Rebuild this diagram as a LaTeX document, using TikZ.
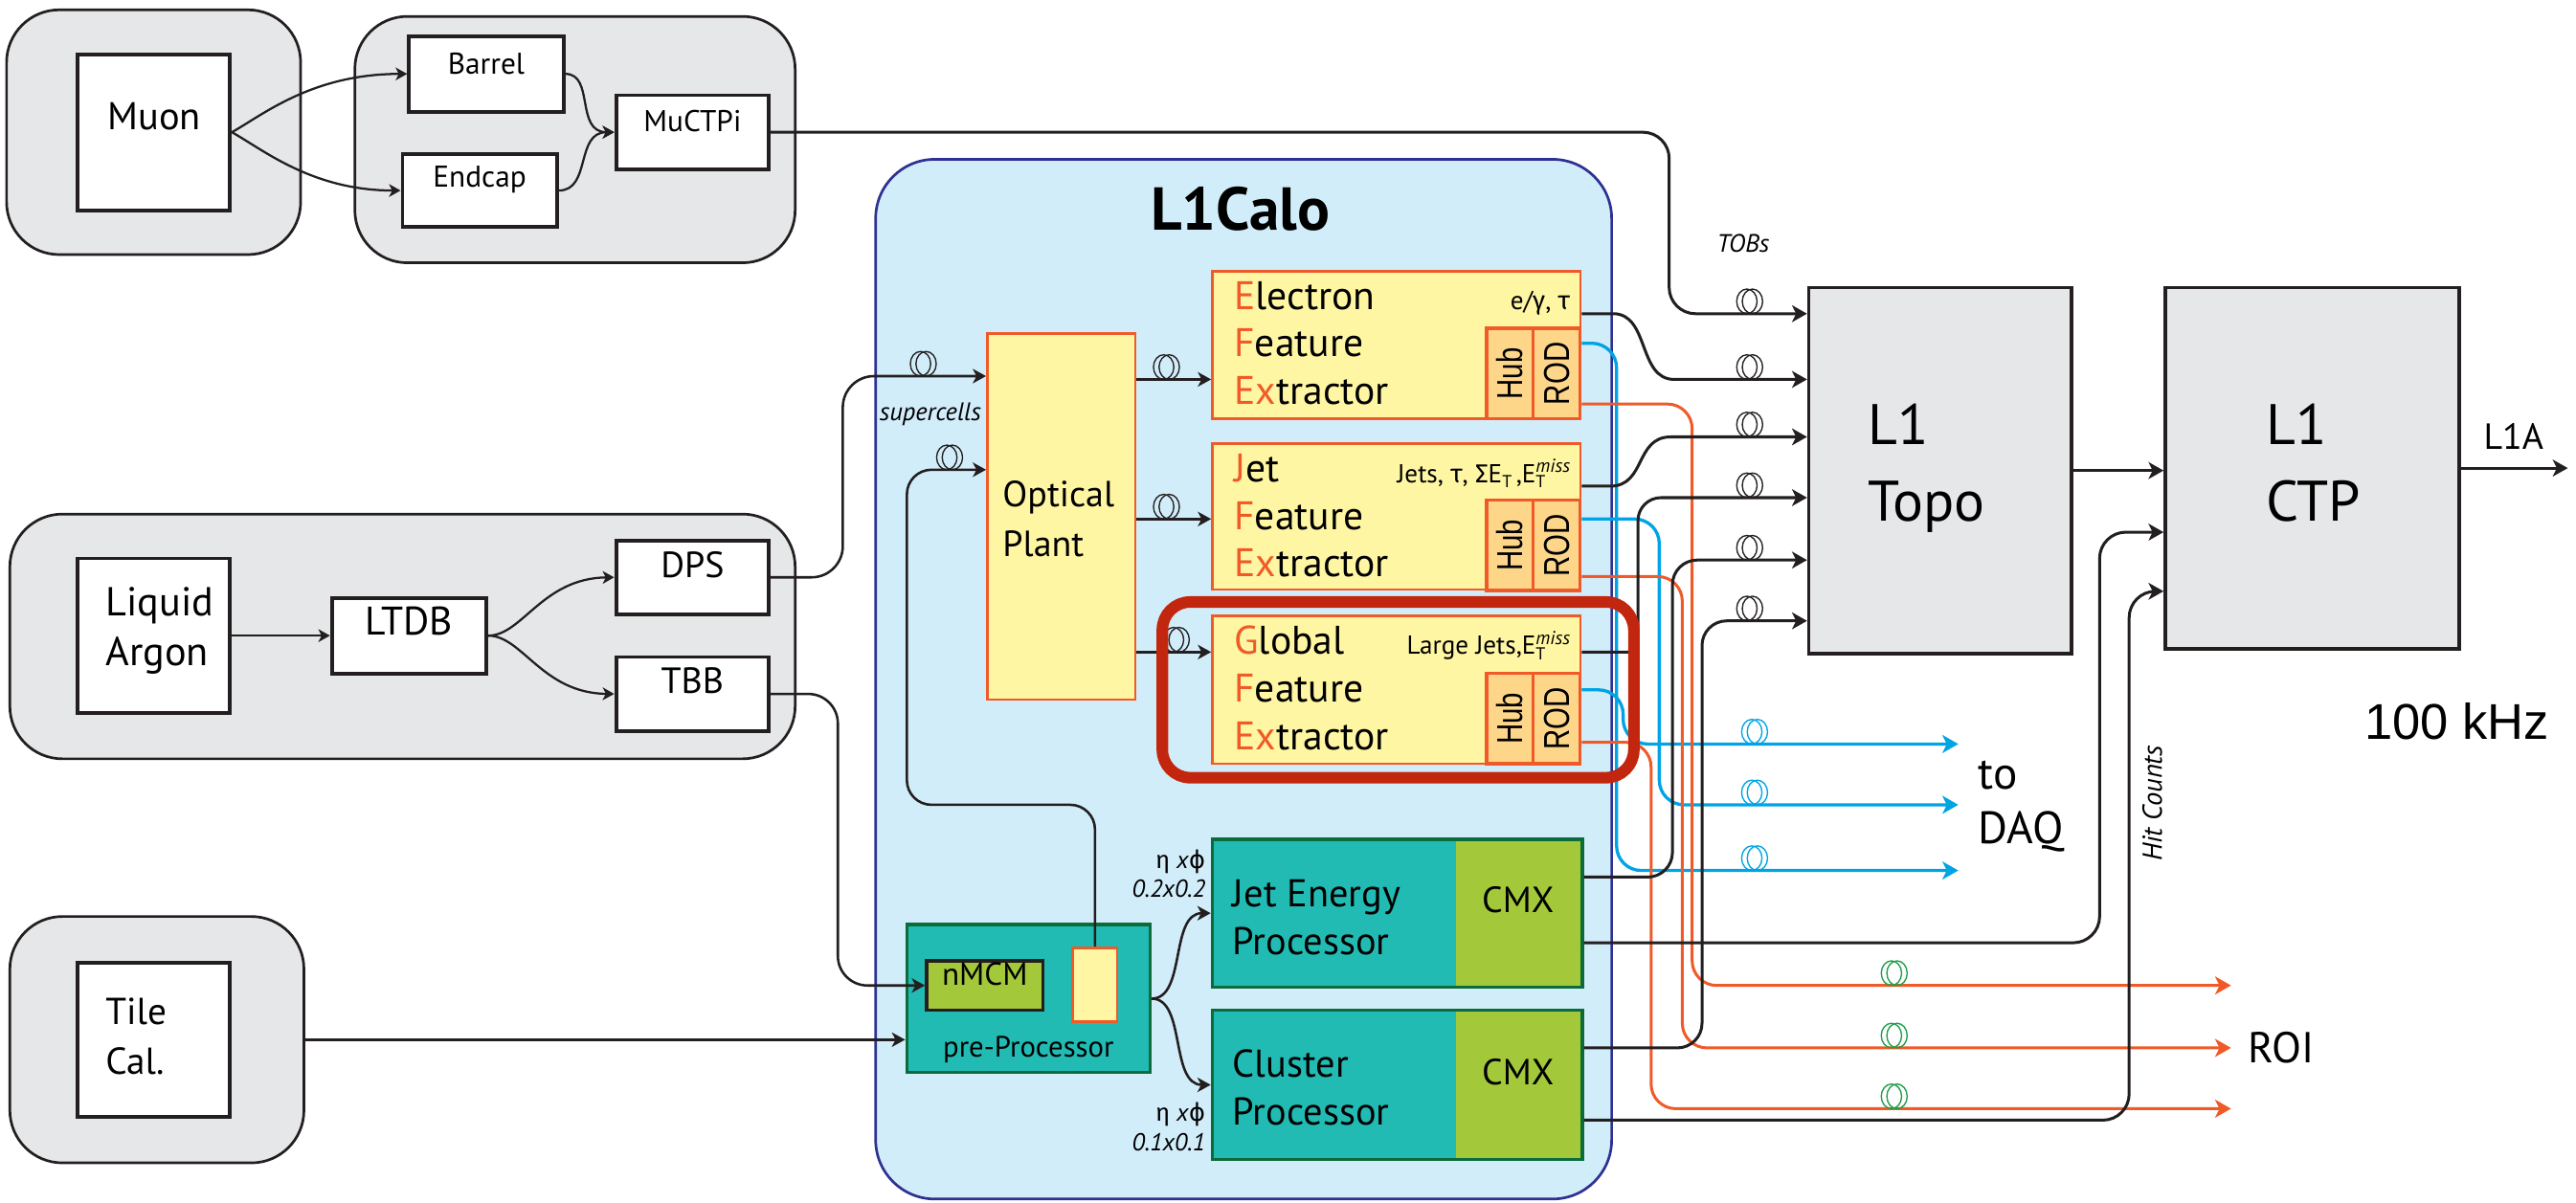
\documentclass[tikz,border=0pt]{standalone}
\usepackage{fontspec}
\setmainfont{PT Sans}
\newfontfamily\grk{Fira Sans}
\newfontfamily\hfont{Liberation Sans}[FakeStretch=0.78]
\newfontfamily\hsans{Liberation Sans}
\newfontfamily\dvs{DejaVu Sans}
\usetikzlibrary{fit,arrows.meta}
\definecolor{grayfill}{HTML}{E6E7E8}
\definecolor{calofill}{HTML}{D2EDFA}
\definecolor{caloline}{HTML}{2E3192}
\definecolor{fexfill}{HTML}{FFF6A3}
\definecolor{fexline}{HTML}{F05A28}
\definecolor{hubfill}{HTML}{FDD68A}
\definecolor{tealfill}{HTML}{22BBB4}
\definecolor{tealline}{HTML}{0B6B3A}
\definecolor{cmxfill}{HTML}{A3C93A}
\definecolor{markred}{HTML}{C3260E}
\definecolor{daqblue}{HTML}{00A4E4}
\definecolor{roiorange}{HTML}{F05A28}
\definecolor{coilgreen}{HTML}{1E9E4A}
\definecolor{ink}{HTML}{231F20}
\newcommand\fsz[2]{\fontsize{#1}{#2}\selectfont}
\newcommand\fexl[1]{\textcolor{fexline}{#1}}
\newcommand\etsub{E\raisebox{-0.4ex}{\fsz{6}{7}T}}
\newcommand\etm{E\rlap{\raisebox{-0.4ex}{\fsz{6}{7}T}}\raisebox{0.8ex}{\fsz{6.5}{7}\itshape miss}}
\tikzset{
  grp/.style={draw=ink, line width=0.9pt, fill=grayfill, rounded corners=0.64cm, inner sep=0pt},
  wbox/.style={draw=ink, line width=1.3pt, fill=white, inner sep=0pt},
  fexbox/.style={draw=fexline, line width=0.9pt, fill=fexfill, inner sep=0pt},
  hubbox/.style={draw=fexline, line width=1.2pt, fill=hubfill, inner sep=0pt, rotate=90,
    minimum width=1.1cm, minimum height=0.57cm, font=\hfont\fsz{12.5}{14}},
  tealbox/.style={draw=tealline, line width=1.2pt, fill=tealfill, inner sep=0pt},
  cmxbox/.style={fill=cmxfill, inner sep=0pt, font=\fsz{12.6}{15}},
  bigbox/.style={draw=ink, line width=1.2pt, fill=grayfill, inner sep=0pt},
  tipA/.style={-{Stealth[length=5.2pt,width=5.8pt,inset=1.4pt]}},
  conn/.style={draw=ink, line width=1pt, tipA},
  conntwo/.style={draw=ink, line width=0.85pt, -{Stealth[length=4.6pt,width=5pt,inset=1.3pt]}},
  thinconn/.style={draw=ink, line width=0.75pt, -{Stealth[length=4pt,width=4.4pt,inset=1.1pt]}},
  daq/.style={draw=daqblue, line width=1.1pt, rounded corners=0.3cm, -{Stealth[length=5.5pt,width=6.2pt,inset=1.5pt]}},
  roi/.style={draw=roiorange, line width=1pt, rounded corners=0.3cm, -{Stealth[length=5.5pt,width=6.2pt,inset=1.5pt]}},
  txt/.style={inner sep=0pt},
  coil/.pic={
    \draw[line width=0.45pt] (-1.7,-7.5) ellipse [x radius=6.2, y radius=7.5];
    \draw[line width=0.45pt] (1.7,-7.5) ellipse [x radius=6.2, y radius=7.5];
  },
}
\begin{document}
\begin{tikzpicture}[x=0.02cm,y=-0.02cm]
\useasboundingbox (0,0) rectangle (1568,732);
% ---------- detector groups
\node[grp, fit={(4,6)(183,155)}] (gmuon) {};
\node[grp, fit={(216,10)(484,160)}] (gmutrig) {};
\node[grp, fit={(6,313)(484,462)}] (glar) {};
\node[grp, fit={(6,558)(185,708)}] (gtile) {};
\node[wbox, fit={(47,33)(140,128)}] (muon) {};
\node[txt, font=\fsz{13.4}{16}] (muontxt) at (94,71) {Muon};
\node[wbox, fit={(249,22)(343,68)}, font=\fsz{10.4}{12}] (barrel) {Barrel};
\node[wbox, fit={(245,94)(339,138)}, font=\fsz{10.4}{12}] (endcap) {Endcap};
\node[wbox, fit={(375,58)(468,103)}, font=\fsz{10.4}{12}] (muctpi) {MuCTPi};
\node[wbox, fit={(47,340)(140,434)}] (lar) {};
\node[txt, font=\fsz{14}{17}, align=left, anchor=west] (lartxt) at (64,384) {Liquid\\Argon};
\node[wbox, fit={(202,364)(296,410)}, font=\fsz{13.8}{16}] (ltdb) {LTDB};
\node[wbox, fit={(375,329)(468,374)}, font=\fsz{12.6}{15}] (dps) {DPS};
\node[wbox, fit={(375,400)(468,445)}, font=\fsz{12.6}{15}] (tbb) {TBB};
\node[wbox, fit={(47,586)(140,680)}] (tile) {};
\node[txt, font=\fsz{13}{17}, align=left, anchor=west] (tiletxt) at (64,631) {Tile\\Cal.};
% ---------- L1Calo
\node[draw=caloline, line width=0.9pt, fill=calofill, rounded corners=0.72cm, inner sep=0pt, fit={(533,97)(981,730)}] (calo) {};
\node[txt, font=\bfseries\fsz{21}{25}] (calotxt) at (755,127) {L1Calo};
\node[fexbox, fit={(601,203)(691,426)}] (op) {};
\node[txt, font=\fsz{12.6}{17}, align=left, anchor=west] (optxt) at (610,316) {Optical\\Plant};
% FEX boxes
\node[fexbox, fit={(738,165)(962,255)}] (efex) {};
\node[hubbox] (hub1) at (919,227.5) {Hub};
\node[hubbox] (rod1) at (947.5,227.5) {ROD};
\node[txt, font=\fsz{13.8}{16.5}, align=left, anchor=west] (efextxt) at (751,209) {\fexl{E}lectron\\\fexl{F}eature\\\fexl{Ex}tractor};
\node[txt, font=\fsz{9}{11}, anchor=base east] (efexlab) at (956,188.5) {e/{\grk γ}, {\grk τ}};
\node[fexbox, fit={(738,270)(962,359)}] (jfex) {};
\node[hubbox] (hub2) at (919,332) {Hub};
\node[hubbox] (rod2) at (947.5,332) {ROD};
\node[txt, font=\fsz{13.8}{16.5}, align=left, anchor=west] (jfextxt) at (751,314) {\fexl{J}et\\\fexl{F}eature\\\fexl{Ex}tractor};
\node[txt, font=\fsz{9}{11}, anchor=base east] (jfexlab) at (956,294) {Jets, {\grk τ}, {\grk Σ}\etsub\,,\etm};
\node[fexbox, fit={(738,375)(962,465)}] (gfex) {};
\node[hubbox] (hub3) at (919,437.5) {Hub};
\node[hubbox] (rod3) at (947.5,437.5) {ROD};
\node[txt, font=\fsz{13.8}{16.5}, align=left, anchor=west] (gfextxt) at (751,419) {\fexl{G}lobal\\\fexl{F}eature\\\fexl{Ex}tractor};
\node[txt, font=\fsz{9}{11}, anchor=base east] (gfexlab) at (956,398.5) {Large Jets,\etm};
% pre-processor and processors
\node[tealbox, fit={(552,563)(700,653)}] (ppr) {};
\node[draw=ink, line width=1.1pt, fill=cmxfill, inner sep=0pt, fit={(564,585)(635,615)}, font=\fsz{11}{13}] (nmcm) {nMCM};
\node[fexbox, fit={(653,577)(680,622)}] (ppry) {};
\node[txt, font=\fsz{10.2}{12}] (pprtxt) at (626,639) {pre-Processor};
\node[tealbox, fit={(738,511)(963,601)}] (jep) {};
\node[cmxbox, fit={(886,512)(962,600)}] (cmx1) {CMX};
\node[txt, font=\fsz{13.4}{16.5}, align=left, anchor=west] (jeptxt) at (750,558.5) {Jet Energy\\Processor};
\node[tealbox, fit={(738,615)(963,706)}] (cp) {};
\node[cmxbox, fit={(886,616)(962,705)}] (cmx2) {CMX};
\node[txt, font=\fsz{13.4}{16.5}, align=left, anchor=west] (cptxt) at (750,662) {Cluster\\Processor};
\node[txt, font=\fsz{8.5}{10.2}, align=right, anchor=east] (gran1) at (734,532) {{\grk η} \textit{x}{\dvs ϕ}\\\textit{0.2x0.2}};
\node[txt, font=\fsz{8.5}{10.2}, align=right, anchor=east] (gran2) at (734,686) {{\grk η} \textit{x}{\dvs ϕ}\\\textit{0.1x0.1}};
\node[txt, font=\itshape\fsz{8.8}{10}, anchor=base west] (sctxt) at (535,256) {supercells};
% ---------- L1Topo / CTP
\node[bigbox, fit={(1101,175)(1261,398)}] (topo) {};
\node[txt, font=\fsz{19.8}{26.6}, align=left, anchor=west] (topotxt) at (1137,285) {L1\\Topo};
\node[bigbox, fit={(1318,175)(1497,395)}] (ctp) {};
\node[txt, font=\fsz{19.8}{26.6}, align=left, anchor=west] (ctptxt) at (1379,282) {L1\\CTP};
\node[txt, font=\fsz{12.6}{15}, anchor=base] (l1atxt) at (1530,273.5) {L1A};
\node[txt, font=\hsans\fsz{17.4}{20}, anchor=base west] (khz) at (1439,450) {100 kHz};
\node[txt, font=\fsz{15.7}{18.7}, align=left, anchor=west] (daqtxt) at (1204,491) {to\\DAQ};
\node[txt, font=\fsz{15}{18}, anchor=base west] (roitxt) at (1368,647) {ROI};
\node[txt, font=\itshape\fsz{8.7}{10}, anchor=base] (tobtxt) at (1061,153.5) {TOBs};
\node[txt, font=\itshape\fsz{9.5}{11}, rotate=90] (hittxt) at (1310,489) {Hit Counts};
\coordinate (l1aend) at (1563,285);
\coordinate (daq1) at (1192,453);
\coordinate (daq2) at (1192,490);
\coordinate (daq3) at (1192,530);
\coordinate (roi1) at (1358,600);
\coordinate (roi2) at (1358,638);
\coordinate (roi3) at (1358,675);
% ---------- muon connectors
\draw[thinconn] (muon.east) .. controls (160,70) and (190,45) .. (barrel.west);
\draw[thinconn] (muon.east) .. controls (160,91) and (190,116) .. (endcap.west);
\draw[thinconn] (barrel.east) .. controls (362,45) and (350,80.5) .. (muctpi.west);
\draw[thinconn] (endcap.east) .. controls (360,116) and (350,80.5) .. (muctpi.west);
% ---------- LAr / Tile connectors
\draw[thinconn] (lar.east) -- (ltdb.west);
\draw[thinconn] (ltdb.east) .. controls (318,387) and (330,352) .. (dps.west);
\draw[thinconn] (ltdb.east) .. controls (318,387) and (330,422) .. (tbb.west);
\draw[conntwo, rounded corners=0.38cm] (dps.east) -| (513,229) -- (op.west |- 0,229);
\draw[conntwo, rounded corners=0.36cm] (tbb.east) -| (510,600) -- (nmcm.west);
\draw[conntwo] (gtile.east) -- (ppr.west |- gtile.east);
\draw[conntwo, rounded corners=0.3cm] (ppry.north) |- (552,490) |- (op.west |- 0,286);
\draw[conntwo] (ppr.east) .. controls (722,608) and (712,556) .. (jep.west);
\draw[conntwo] (ppr.east) .. controls (722,608) and (712,660.5) .. (cp.west);
\draw[conntwo] (op.east |- 0,231) -- (efex.west |- 0,231);
\draw[conntwo] (op.east |- 0,316) -- (jfex.west |- 0,316);
\draw[conntwo] (op.east |- 0,397) -- (gfex.west |- 0,397);
% ---------- readout lines
\draw[daq] (gfex.east |- 0,420) -| (988,453) -- (daq1);
\draw[daq] (jfex.east |- 0,316) -| (1010,490) -- (daq2);
\draw[daq] (efex.east |- 0,209) -| (984,530) -- (daq3);
\draw[roi] (efex.east |- 0,246) -| (1030,600) -- (roi1);
\draw[roi] (jfex.east |- 0,351) -| (1024,638) -- (roi2);
\draw[roi] (gfex.east |- 0,452) -| (1005,675) -- (roi3);
% ---------- trigger object lines
\draw[conn, rounded corners=0.32cm] (muctpi.east) -| (1016,191) -- (topo.west |- 0,191);
\draw[conn] (efex.east |- 0,191) -- (982,191) .. controls (1004,191) and (997,231) .. (1019,231) -- (topo.west |- 0,231);
\draw[conn] (jfex.east |- 0,296) -- (980,296) .. controls (1002,296) and (995,266) .. (1017,266) -- (topo.west |- 0,266);
\draw[conn, rounded corners=0.28cm] (gfex.east |- 0,397) -- (982,397) .. controls (997,397) and (997,390) .. (997,378) |- (topo.west |- 0,303);
\draw[conn, rounded corners=0.3cm] (jep.east |- 0,534) -| (1018,341) -- (topo.west |- 0,341);
\draw[conn, rounded corners=0.3cm] (cp.east |- 0,638) -| (1036,378) -- (topo.west |- 0,378);
\draw[conn, rounded corners=0.32cm] (jep.east |- 0,574) -| (1278,324) -- (ctp.west |- 0,324);
\draw[conn, rounded corners=0.32cm] (cp.east |- 0,682) -| (1296,360) -- (ctp.west |- 0,360);
\draw[conn] (topo.east) -- (ctp.west |- topo.east);
\draw[conn] (ctp.east) -- (l1aend);
% ---------- fibre coils
\pic[ink] at (562,229) {coil};
\pic[ink] at (578,286) {coil};
\pic[ink] at (710,231) {coil};
\pic[ink] at (710,316) {coil};
\pic[ink] at (716,397) {coil};
\foreach \yy in {191,231,266,303,341,378} {\pic[ink] at (1065,\yy) {coil};}
\foreach \yy in {453,490,530} {\pic[daqblue] at (1068,\yy) {coil};}
\foreach \yy in {600,638,675} {\pic[coilgreen] at (1153,\yy) {coil};}
% ---------- highlight of the Global Feature Extractor
\node[draw=markred, line width=4pt, rounded corners=0.34cm, inner sep=0pt, fit={(707.5,366.5)(994.5,473.5)}] (gmark) {};
\end{tikzpicture}
\end{document}
